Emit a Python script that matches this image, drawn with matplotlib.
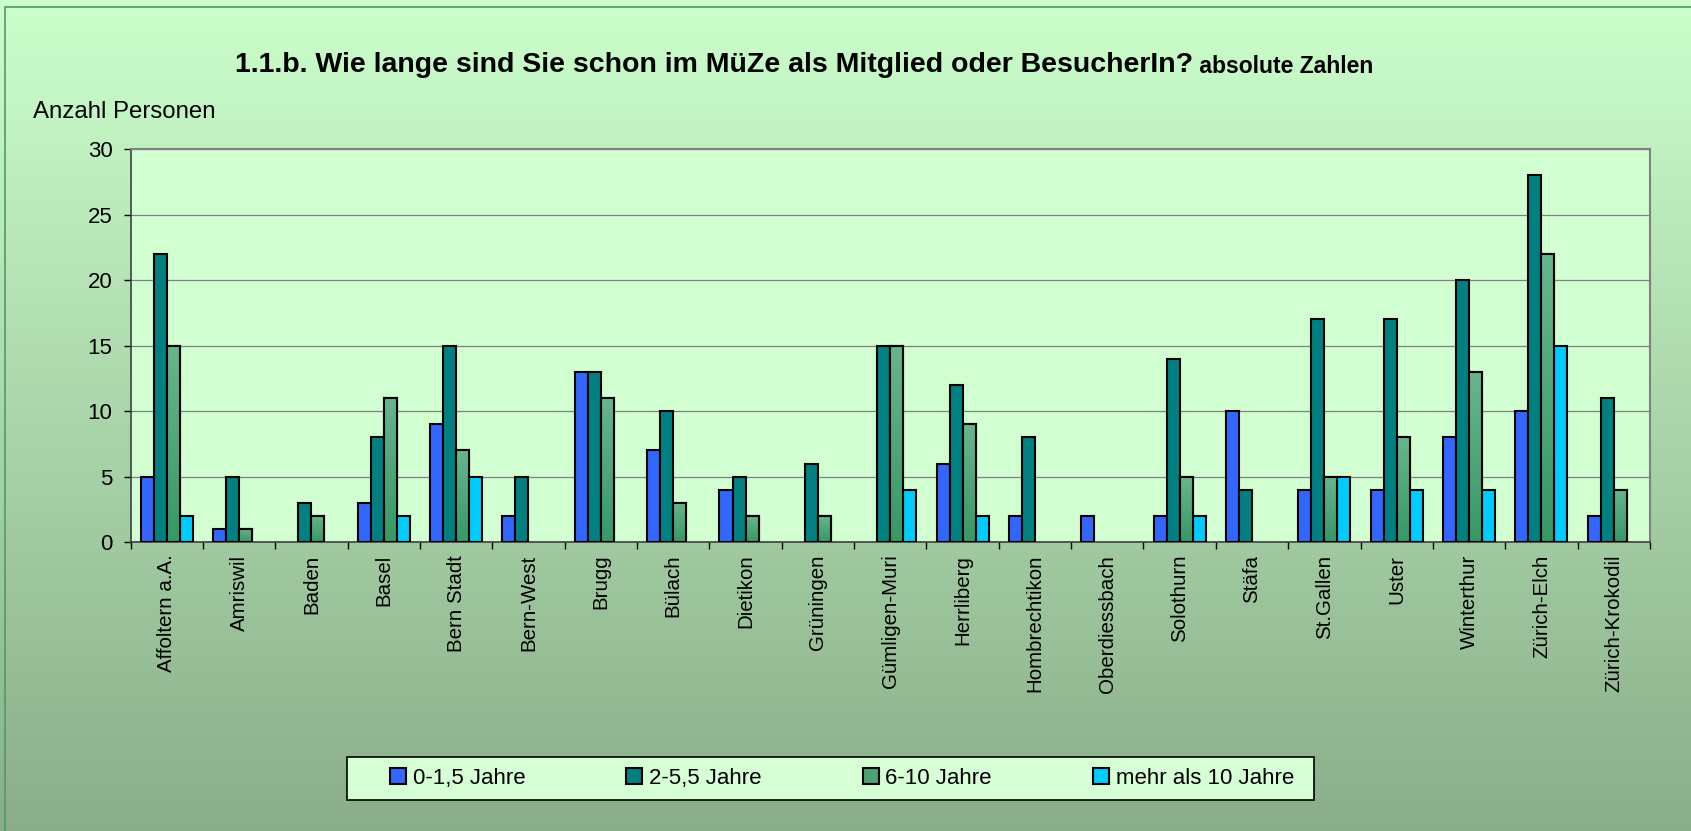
import numpy as np
import matplotlib
matplotlib.use("Agg")
import matplotlib.pyplot as plt
from matplotlib.patches import Rectangle
from matplotlib.colors import LinearSegmentedColormap

plt.rcParams['font.family'] = ['Liberation Sans', 'DejaVu Sans']

# data
orte = ['Affoltern a.A.', 'Amriswil', 'Baden', 'Basel', 'Bern Stadt', 'Bern-West',
        'Brugg', 'Bülach', 'Dietikon', 'Grüningen', 'Gümligen-Muri', 'Herrliberg',
        'Hombrechtikon', 'Oberdiessbach', 'Solothurn', 'Stäfa', 'St.Gallen', 'Uster',
        'Winterthur', 'Zürich-Elch', 'Zürich-Krokodil']
jahre_0_1 = [5, 1, 0, 3, 9, 2, 13, 7, 4, 0, 0, 6, 2, 2, 2, 10, 4, 4, 8, 10, 2]
jahre_2_5 = [22, 5, 3, 8, 15, 5, 13, 10, 5, 6, 15, 12, 8, 0, 14, 4, 17, 17, 20, 28, 11]
jahre_6_10 = [15, 1, 2, 11, 7, 0, 11, 3, 2, 2, 15, 9, 0, 0, 5, 0, 5, 8, 13, 22, 4]
jahre_10_plus = [2, 0, 0, 2, 5, 0, 0, 0, 0, 0, 4, 2, 0, 0, 2, 0, 5, 4, 4, 15, 0]

serien = ['0-1,5 Jahre', '2-5,5 Jahre', '6-10 Jahre', 'mehr als 10 Jahre']
farben = ['#3366ff', '#008080', '#4aa373', '#00ccff']
gruen_verlauf = LinearSegmentedColormap.from_list('gv', ['#68b58d', '#379866'])

fig = plt.figure(figsize=(16.91, 8.31), dpi=100)

# background gradient of the whole figure
bg = fig.add_axes([0, 0, 1, 1], zorder=-10)
grad = np.linspace(0, 1, 256).reshape(-1, 1)
top = np.array([0.80, 1.0, 0.80])
bot = np.array([0.54, 0.68, 0.54])
img = top * (1 - grad[..., None]) + bot * grad[..., None]
bg.imshow(img, aspect='auto', extent=[0, 1, 0, 1])
bg.set_xlim(0, 1)
bg.set_ylim(0, 1)
bg.set_axis_off()
bg.plot([0.003, 0.003, 1.0], [0.0, 0.9915, 0.9915], color='#4f9a66', lw=1.2)

# legend box
bg.add_patch(Rectangle((347 / 1691, 1 - 800 / 831), 967 / 1691, 43 / 831,
                       facecolor='#d6ffd6', edgecolor='black', lw=1.2, zorder=2))

ax = fig.add_axes([0.0772, 0.3475, 0.8985, 0.4732])
ax.set_facecolor('#d2ffd2')

x = np.arange(len(orte))
w = 0.18
for i, (vals, name, col) in enumerate(zip(
        [jahre_0_1, jahre_2_5, jahre_6_10, jahre_10_plus], serien, farben)):
    v = np.array(vals, dtype=float)
    v[v == 0] = np.nan
    bars = ax.bar(x + (i - 1.5) * w, v, width=w, color=col, edgecolor='black',
                  linewidth=1.5, label=name, zorder=3)
    if i == 2:
        # vertical gradient fill like the original
        for b in bars:
            if not np.isfinite(b.get_height()):
                continue
            x0, y0 = b.get_x(), b.get_y()
            im = ax.imshow(grad, cmap=gruen_verlauf, aspect='auto', zorder=3.1,
                           extent=[x0, x0 + b.get_width(), y0, y0 + b.get_height()])
            im.set_clip_path(b)
            ax.add_patch(Rectangle((x0, y0), b.get_width(), b.get_height(),
                                   fill=False, edgecolor='black', lw=1.5, zorder=3.2))

ax.set_xlim(-0.5, len(orte) - 0.5)
ax.set_ylim(0, 30)
ax.set_yticks(np.arange(0, 31, 5))
ax.yaxis.grid(True, color='#808080', linewidth=0.9, zorder=0)
ax.tick_params(axis='y', labelsize=16, length=5, pad=8, direction='out', width=1)
ax.set_xticks(x)
ax.set_xticklabels(orte, rotation=90, fontsize=14.8)
ax.tick_params(axis='x', length=0, pad=9)
ax.set_xticks(np.arange(-0.5, len(orte), 1), minor=True)
ax.tick_params(axis='x', which='minor', length=5, width=1, direction='out')

for s in ['top', 'right']:
    ax.spines[s].set_color('#808080')
    ax.spines[s].set_linewidth(1.5)
for s in ['left', 'bottom']:
    ax.spines[s].set_color('#404040')
    ax.spines[s].set_linewidth(1.2)

t1 = fig.text(0.139, 0.9128, '1.1.b. Wie lange sind Sie schon im MüZe als Mitglied oder BesucherIn?',
              fontsize=20.5, fontweight='bold', ha='left', va='baseline')
ax.annotate(' absolute Zahlen', xy=(1, 0), xycoords=t1, fontsize=16.5,
            fontweight='bold', ha='left', va='bottom')

fig.text(0.0195, 0.858, 'Anzahl Personen', fontsize=17.3, ha='left', va='baseline')

leg = fig.legend(loc='center left', ncol=4,
                 bbox_to_anchor=(390 / 1691, 1 - 778.5 / 831),
                 fontsize=16, frameon=False, handlelength=0.72,
                 handleheight=0.72, handletextpad=0.3, columnspacing=4.55,
                 borderpad=0, borderaxespad=0)

fig.savefig('out.png', dpi=100)
